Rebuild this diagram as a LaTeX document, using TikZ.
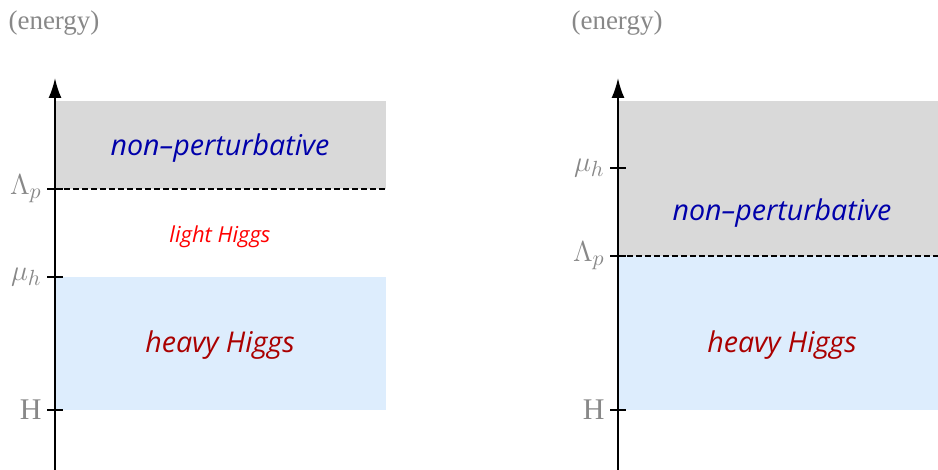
\documentclass[tikz,border=0pt]{standalone}
\usepackage{fontspec}
\setmainfont{Liberation Serif}
\newfontfamily\handfont{Open Sans}
\usetikzlibrary{arrows.meta}
\definecolor{npgray}{RGB}{217,217,217}
\definecolor{hhblue}{RGB}{221,237,253}
\definecolor{nptext}{RGB}{0,0,170}
\definecolor{hhtext}{RGB}{170,0,0}
\definecolor{lbl}{RGB}{136,136,136}
\begin{document}
\begin{tikzpicture}[x=0.5pt,y=-0.5pt]
		\tikzstyle{axis}=[line width=1pt, -{Latex[length=10pt,width=6.5pt]}];
		\tikzstyle{tick}=[line width=1pt];
		\tikzstyle{level}=[lbl, font=\fontsize{15}{17}\selectfont, anchor=east, inner sep=2.5pt];
		\tikzstyle{region}=[font=\handfont\itshape\fontsize{14.3}{16}\selectfont];
		\useasboundingbox (0,0) rectangle (938,470);

		% left: light Higgs window
		\fill[npgray] (55,101) rectangle (386,189);
		\fill[hhblue] (55,277) rectangle (386,410);
		\coordinate (LB) at (55,470);
		\coordinate (LT) at (55,78);
		\draw[axis] (LB) to (LT);
		\node[lbl, font=\fontsize{13.5}{15}\selectfont] (Len) at (54,23) {(energy)};
		\node[level] (LLp) at (47,189) {$\Lambda_p$};
		\node[level] (Lmu) at (47,277) {$\mu_h$};
		\node[level] (LH) at (47,410) {H};
		\draw[tick] (LLp.east) to ++(16,0);
		\draw[tick] (Lmu.east) to ++(16,0);
		\draw[tick] (LH.east) to ++(16,0);
		\draw[line width=1pt, dash pattern=on 3pt off 1.5pt] (55,189) to (386,189);
		\node[region, nptext] (Lnp) at (220,148) {non–perturbative};
		\node[region, red, font=\handfont\itshape\fontsize{11}{13}\selectfont] (Llh) at (220,237) {light Higgs};
		\node[region, hhtext] (Lhh) at (220,345) {heavy Higgs};

		% right: no light Higgs window
		\fill[npgray] (618,101) rectangle (938,256);
		\fill[hhblue] (618,256) rectangle (938,410);
		\coordinate (RB) at (618,470);
		\coordinate (RT) at (618,78);
		\draw[axis] (RB) to (RT);
		\node[lbl, font=\fontsize{13.5}{15}\selectfont] (Ren) at (617,23) {(energy)};
		\node[level] (Rmu) at (610,168) {$\mu_h$};
		\node[level] (RLp) at (610,256) {$\Lambda_p$};
		\node[level] (RH) at (610,410) {H};
		\draw[tick] (Rmu.east) to ++(16,0);
		\draw[tick] (RLp.east) to ++(16,0);
		\draw[tick] (RH.east) to ++(16,0);
		\draw[line width=1pt, dash pattern=on 3pt off 1.5pt] (618,256) to (938,256);
		\node[region, nptext] (Rnp) at (782,213) {non–perturbative};
		\node[region, hhtext] (Rhh) at (782,345) {heavy Higgs};
        \end{tikzpicture}
\end{document}
